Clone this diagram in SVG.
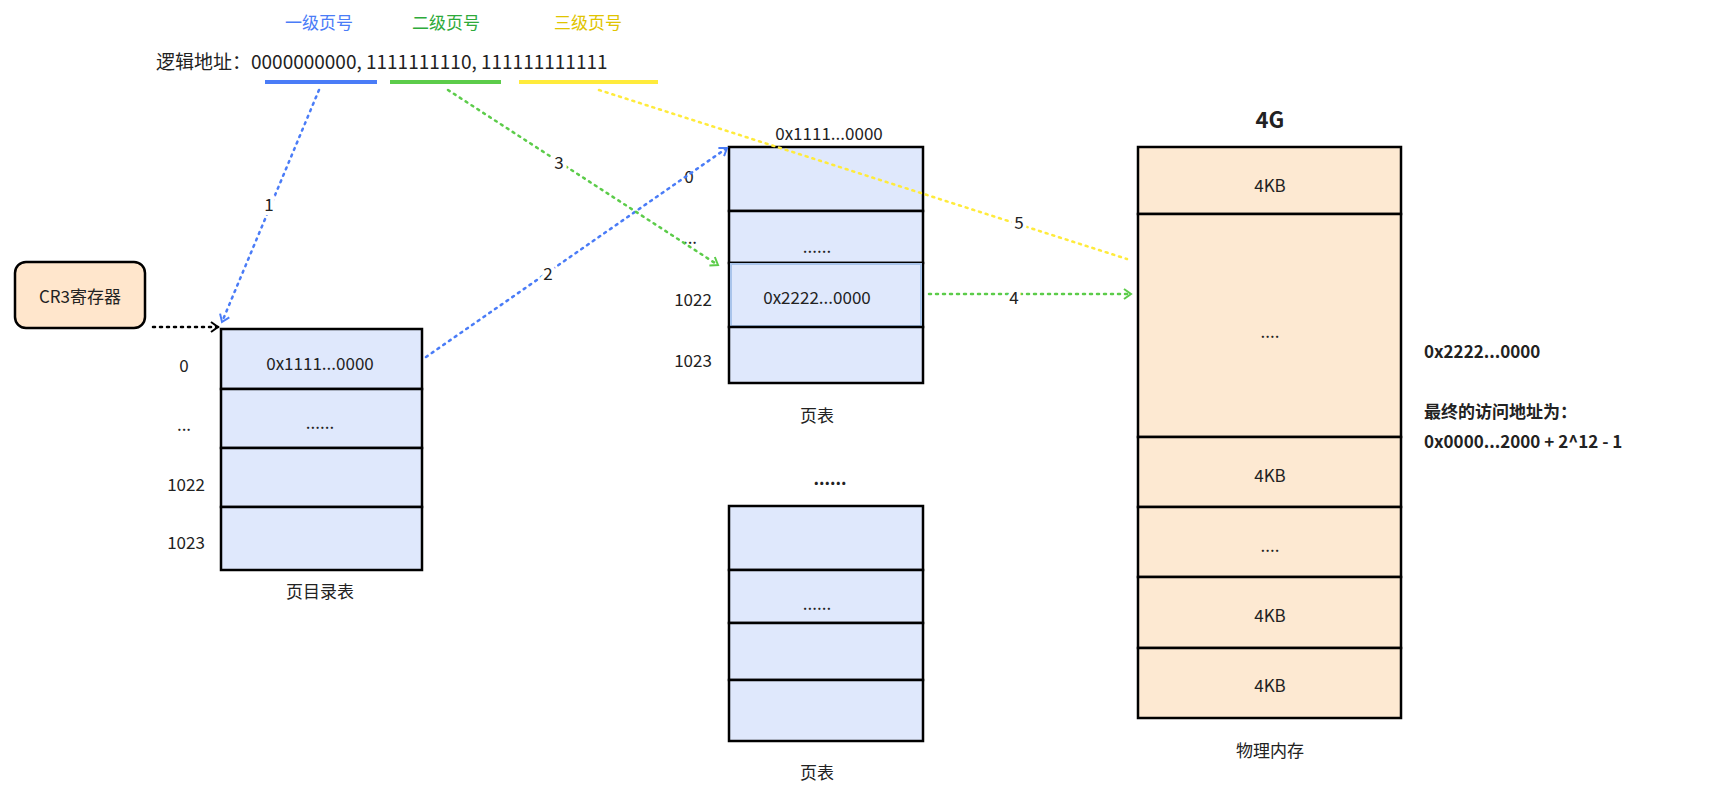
<svg xmlns="http://www.w3.org/2000/svg" width="1713" height="794" viewBox="0 0 1713 794">
<style>
text{font-family:"Noto Sans CJK SC","Noto Sans",sans-serif;fill:#222;text-anchor:middle;dominant-baseline:central}
.t{font-size:17px}
.cell{fill:#dfe8fc;stroke:#000;stroke-width:2.5}
.mem{fill:#fde9d2;stroke:#000;stroke-width:2.5}
.c{fill:none;stroke-width:2.5;stroke-dasharray:2 5;stroke-linecap:round}
.lbl{font-size:17px;stroke:#fff;stroke-width:8;paint-order:stroke}
.b{font-weight:bold}
</style>
<defs>
<marker id="ab" markerWidth="12" markerHeight="12" refX="9" refY="6" orient="auto" markerUnits="userSpaceOnUse"><path d="M2,1 L9,6 L2,11" fill="none" stroke="#4a7cf7" stroke-width="2"/></marker>
<marker id="ag" markerWidth="12" markerHeight="12" refX="9" refY="6" orient="auto" markerUnits="userSpaceOnUse"><path d="M2,1 L9,6 L2,11" fill="none" stroke="#5ccc4a" stroke-width="2"/></marker>
<marker id="ak" markerWidth="12" markerHeight="12" refX="9" refY="6" orient="auto" markerUnits="userSpaceOnUse"><path d="M2,1 L9,6 L2,11" fill="none" stroke="#000" stroke-width="2"/></marker>
</defs>

<g id="logical-address">
<text x="319" y="21" class="t" style="fill:#4a7cf7">一级页号</text>
<text x="446" y="21" class="t" style="fill:#2eaa3a">二级页号</text>
<text x="588" y="21" class="t" style="fill:#e0c400">三级页号</text>
<text x="156" y="60" style="font-size:19px;text-anchor:start">逻辑地址：0000000000, 1111111110, 111111111111</text>
<line x1="265" y1="82" x2="377" y2="82" stroke="#4a7cf7" stroke-width="4"/>
<line x1="390" y1="82" x2="501" y2="82" stroke="#5ccc4a" stroke-width="4"/>
<line x1="519" y1="82" x2="658" y2="82" stroke="#ffeb3b" stroke-width="4"/>
</g>

<g id="cr3">
<rect x="15" y="262" width="130" height="66" rx="11" fill="#ffe6cc" stroke="#000" stroke-width="2.5"/>
<text x="80" y="295" class="t">CR3寄存器</text>
</g>

<g id="page-directory">
<rect x="221" y="329" width="201" height="60" class="cell"/>
<rect x="221" y="389" width="201" height="59" class="cell"/>
<rect x="221" y="448" width="201" height="59" class="cell"/>
<rect x="221" y="507" width="201" height="63" class="cell"/>
<text x="320" y="362" class="t">0x1111...0000</text>
<text x="320" y="421" class="t">......</text>
<text x="184" y="364" class="t">0</text>
<text x="184" y="423" class="t">...</text>
<text x="186" y="483" class="t">1022</text>
<text x="186" y="541" class="t">1023</text>
<text x="320" y="590" class="t">页目录表</text>
</g>

<g id="page-table-1">
<rect x="729" y="147" width="194" height="64" class="cell"/>
<rect x="729" y="211" width="194" height="52" class="cell"/>
<rect x="729" y="263" width="194" height="64" class="cell"/>
<rect x="731" y="264" width="190" height="62" fill="none" stroke="#a9c4eb" stroke-width="2"/>
<rect x="729" y="327" width="194" height="56" class="cell"/>
<text x="829" y="132" class="t">0x1111...0000</text>
<text x="817" y="245" class="t">......</text>
<text x="817" y="296" class="t">0x2222...0000</text>
<text x="689" y="175" class="t">0</text>
<text x="690" y="236" class="t">...</text>
<text x="693" y="298" class="t">1022</text>
<text x="693" y="359" class="t">1023</text>
<text x="817" y="414" class="t">页表</text>
</g>

<g id="ellipsis">
<text x="830" y="477" class="t b">......</text>
</g>

<g id="page-table-2">
<rect x="729" y="506" width="194" height="64" class="cell"/>
<rect x="729" y="570" width="194" height="53" class="cell"/>
<rect x="729" y="623" width="194" height="57" class="cell"/>
<rect x="729" y="680" width="194" height="61" class="cell"/>
<text x="817" y="602" class="t">......</text>
<text x="817" y="771" class="t">页表</text>
</g>

<g id="physical-memory">
<text x="1270" y="118" style="font-size:22px;font-weight:bold">4G</text>
<rect x="1138" y="147" width="263" height="67" class="mem"/>
<rect x="1138" y="214" width="263" height="223" class="mem"/>
<rect x="1138" y="437" width="263" height="70" class="mem"/>
<rect x="1138" y="507" width="263" height="70" class="mem"/>
<rect x="1138" y="577" width="263" height="71" class="mem"/>
<rect x="1138" y="648" width="263" height="70" class="mem"/>
<text x="1270" y="184" class="t">4KB</text>
<text x="1270" y="330" class="t">....</text>
<text x="1270" y="474" class="t">4KB</text>
<text x="1270" y="544" class="t">....</text>
<text x="1270" y="614" class="t">4KB</text>
<text x="1270" y="684" class="t">4KB</text>
<text x="1270" y="749" class="t">物理内存</text>
</g>

<g id="result-note">
<text x="1424" y="350" class="t b" style="text-anchor:start">0x2222...0000</text>
<text x="1424" y="410" class="t b" style="text-anchor:start">最终的访问地址为：</text>
<text x="1424" y="440" class="t b" style="text-anchor:start">0x0000...2000 + 2^12 - 1</text>
</g>

<g id="connectors">
<line x1="153" y1="327" x2="218" y2="327" class="c" stroke="#000" marker-end="url(#ak)"/>
<line x1="319" y1="90" x2="222" y2="322" class="c" stroke="#4a7cf7" marker-end="url(#ab)"/>
<text x="269" y="203" class="lbl">1</text>
<line x1="426" y1="357" x2="727" y2="148" class="c" stroke="#4a7cf7" marker-end="url(#ab)"/>
<text x="548" y="272" class="lbl">2</text>
<line x1="448" y1="90" x2="718" y2="265" class="c" stroke="#5ccc4a" marker-end="url(#ag)"/>
<text x="559" y="161" class="lbl">3</text>
<line x1="929" y1="294" x2="1131" y2="294" class="c" stroke="#5ccc4a" marker-end="url(#ag)"/>
<text x="1014" y="296" class="lbl">4</text>
<line x1="599" y1="90" x2="1127" y2="259" class="c" stroke="#ffeb3b"/>
<text x="1019" y="221" class="lbl">5</text>
</g>
</svg>
